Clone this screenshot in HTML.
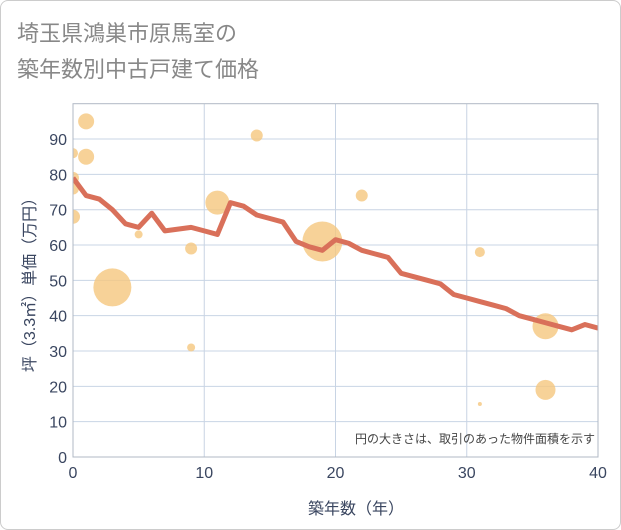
<!DOCTYPE html>
<html><head><meta charset="utf-8"><style>
body{margin:0;background:#fff;font-family:"Liberation Sans","Noto Sans CJK JP",sans-serif}
#wrap{position:relative;width:619px;height:528px;border:1px solid #ccc;border-radius:8px;overflow:hidden}
</style></head><body>
<div id="wrap">
<svg id="c" width="621" height="530">
<defs><clipPath id="pc"><rect x="72" y="102.7" width="525" height="353.3"/></clipPath></defs>
<text x="16" y="40" font-size="22" fill="#888">埼玉県鴻巣市原馬室の</text>
<text x="16" y="76" font-size="22" fill="#888">築年数別中古戸建て価格</text>
<g id="grid"></g><g id="bubbles" clip-path="url(#pc)"></g><g id="line" clip-path="url(#pc)"></g><g id="axes"></g>
<text x="594" y="442" font-size="12" fill="#444" text-anchor="end">円の大きさは、取引のあった物件面積を示す</text>
<text x="355" y="513" font-size="16" fill="#3a4660" text-anchor="middle">築年数（年）</text>
<text transform="translate(34,280) rotate(-90)" font-size="16" fill="#3a4660" text-anchor="middle">坪（3.3㎡）単価（万円）</text>
</svg></div>
<script>
const lineYears=[0,1,2,3,4,5,6,7,8,9,10,11,12,13,14,15,16,17,18,19,20,21,22,23,24,25,26,27,28,29,30,31,32,33,34,35,36,37,38,39,40];
const lineValues=[79,74,73,70,66,65,69,64,64.5,65,64,63,72,71,68.5,67.5,66.5,61,59.5,58.5,61.5,60.5,58.5,57.5,56.5,52,51,50,49,46,45,44,43,42,40,39,38,37,36,37.5,36.5];
const bubbleX=[0,0,0,0,1,1,3,5,9,9,11,14,19,22,31,31,36,36];
const bubbleY=[86,79,76,68,95,85,48,63,59,31,72,91,61,74,58,15,37,19];
const bubbleR=[5,6,6,7,8,8,19,4,6,4,12,6,20,6,5,2,13,10];
const xTicks=[0,10,20,30,40];
const yTicks=[0,10,20,30,40,50,60,70,80,90];
const NS="http://www.w3.org/2000/svg";
const X0=72,X1=597,Y0=456,Y1=102.7;
const sx=v=>X0+(X1-X0)*v/40, sy=v=>Y0-(Y0-Y1)*v/100;
function mk(t,a,p){const e=document.createElementNS(NS,t);for(const k in a)e.setAttribute(k,a[k]);p.appendChild(e);return e;}
const g=document.getElementById('grid');
for(const t of yTicks){const l=mk('line',{x1:X0,x2:X1,y1:sy(t),y2:sy(t),stroke:'#c8d4e4','stroke-width':1},g);


const tx=mk('text',{x:X0-6,y:sy(t)+6,'font-size':16,fill:'#3a4660','text-anchor':'end'},g);tx.textContent=t;

}
for(const t of xTicks){const l=mk('line',{x1:sx(t),x2:sx(t),y1:Y1,y2:Y0,stroke:'#c8d4e4','stroke-width':1},g);


const tx=mk('text',{x:sx(t),y:Y0+21,'font-size':16,fill:'#3a4660','text-anchor':'middle'},g);tx.textContent=t;

}
const a=document.getElementById('axes');
const fr=mk('rect',{x:X0,y:Y1,width:X1-X0,height:Y0-Y1,fill:'none',stroke:'#b0b8c4'},a);


const b=document.getElementById('bubbles');
bubbleX.forEach((v,i)=>{const c=mk('circle',{cx:sx(v),cy:sy(bubbleY[i]),r:bubbleR[i],fill:'#f5c77e','fill-opacity':0.8},b);

});
const p=mk('polyline',{points:lineYears.map((v,i)=>sx(v)+','+sy(lineValues[i])).join(' '),fill:'none',stroke:'#d9705a','stroke-width':5,'stroke-linejoin':'round'},document.getElementById('line'));


</script>
</body></html>
